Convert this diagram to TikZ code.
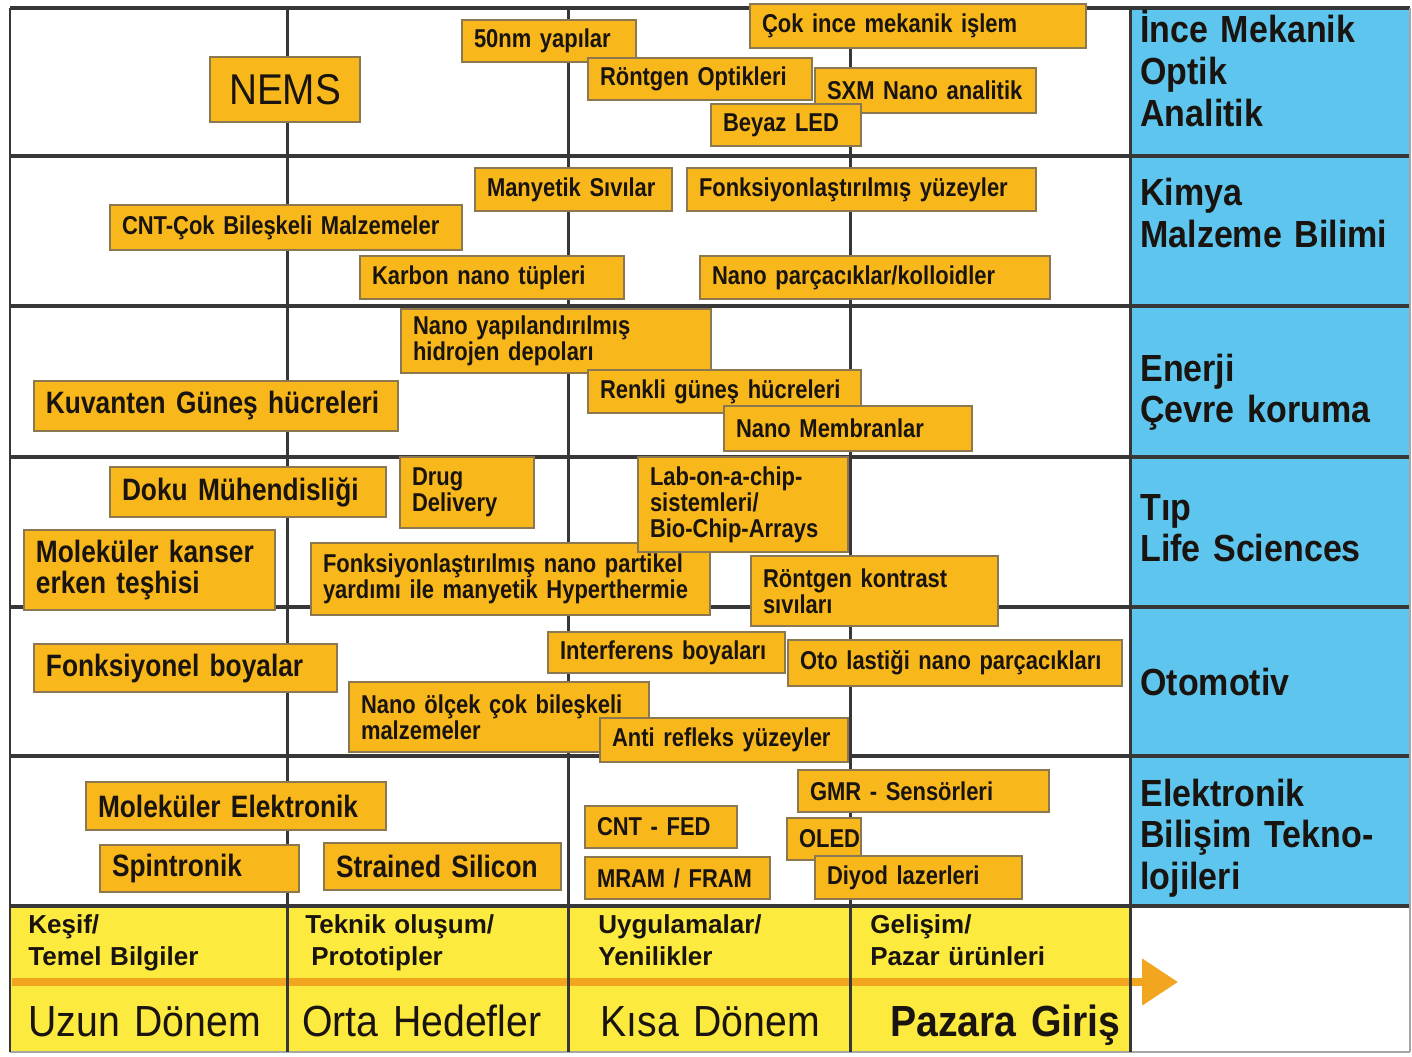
\documentclass[tikz,border=0pt]{standalone}
\usepackage{fontspec}
\setmainfont{Liberation Sans}
\newfontfamily\cnd[FakeStretch=0.85]{Liberation Sans}
\newfontfamily\cndw[FakeStretch=0.9]{Liberation Sans}
\usetikzlibrary{arrows.meta}
\definecolor{boxfill}{RGB}{248,184,28}
\definecolor{boxedge}{RGB}{140,120,80}
\definecolor{bluecol}{RGB}{94,198,238}
\definecolor{yelrow}{RGB}{253,234,62}
\definecolor{arrowc}{RGB}{242,165,30}
\definecolor{gridc}{RGB}{55,55,55}
\definecolor{txt}{RGB}{25,20,15}
\tikzset{
  box/.style={draw=boxedge, fill=boxfill, line width=0.05cm, text=txt, align=left,
    inner xsep=0.24cm, inner ysep=0pt, font=\cnd\bfseries\fontsize{14.7}{14.9}\selectfont},
  boxL/.style={font=\cnd\bfseries\fontsize{17.6}{18.1}\selectfont},
  hline/.style={draw=gridc, line width=0.09cm},
  vline/.style={draw=gridc, line width=0.06cm},
  sidelabel/.style={anchor=base west, inner sep=0pt, align=left, text width=5.3cm, text=txt,
    font=\cndw\bfseries\fontsize{21.5}{23.8}\selectfont},
  phase/.style={anchor=base west, inner sep=0pt, align=left, text width=5cm, text=txt,
    font=\bfseries\fontsize{14.8}{18.7}\selectfont},
  horizon/.style={anchor=base west, inner sep=0pt, align=left, text width=5cm, text=txt,
    font=\cndw\fontsize{24.8}{26}\selectfont},
  trend/.style={draw=arrowc, line width=0.16cm, -{Triangle[length=0.72cm,width=0.9cm]}}
}
\newcommand\bx[7][]{%
  \pgfmathsetmacro\bxw{(#5-#3-24)*0.02}%
  \pgfmathsetmacro\bxh{(#6-#4)*0.02}%
  \node[box,#1,text width=\bxw cm,minimum height=\bxh cm] (#2) at ({(#3+#5)/2},{(#4+#6)/2}) {#7};}
\begin{document}
\begin{tikzpicture}[x=0.02cm,y=-0.02cm]
\useasboundingbox (0,0) rectangle (1412,1057);
\fill[white] (0,0) rectangle (1412,1057);
\fill[bluecol] (1130,8) rectangle (1410,906);
\fill[yelrow] (10,906) rectangle (1130,1052);
% trend arrow
\coordinate (arrS) at (12,982);
\coordinate (arrE) at (1178,982);
\draw[trend] (arrS) -- (arrE);
% grid
\foreach \y in {8,156,306,457,607,756,906} \draw[hline] (10,\y) -- (1410,\y);
\draw[draw=gray!70, line width=0.05cm] (10,1052) -- (1410,1052);
\draw[draw=gray!70, line width=0.04cm] (1410,8) -- (1410,1052);
\foreach \x in {10,287,568,850,1130} \draw[vline] (\x,8) -- (\x,1052);
% row 1
\bx[font=\cndw\fontsize{24.5}{26}\selectfont, align=center]{nems}{210}{57}{360}{122}{NEMS}
\bx{nm50}{462}{20}{636}{62}{50nm yapılar}
\bx{cok}{750}{4}{1086}{48}{Çok ince mekanik işlem}
\bx{ront}{588}{58}{812}{100}{Röntgen Optikleri}
\bx{sxm}{815}{68}{1036}{113}{SXM Nano analitik}
\bx{led}{711}{104}{861}{146}{Beyaz LED}
% row 2
\bx{manyetik}{475}{168}{672}{211}{Manyetik Sıvılar}
\bx{fonkyuz}{687}{168}{1036}{211}{Fonksiyonlaştırılmış yüzeyler}
\bx{cnt}{110}{205}{462}{250}{CNT-Çok Bileşkeli Malzemeler}
\bx{karbon}{360}{256}{624}{299}{Karbon nano tüpleri}
\bx{nanopar}{700}{256}{1050}{299}{Nano parçacıklar/kolloidler}
% row 3
\bx{hidro}{401}{309}{711}{373}{Nano yapılandırılmış\\hidrojen depoları}
\bx[boxL]{kuv}{34}{381}{398}{431}{Kuvanten Güneş hücreleri}
\bx{renkli}{588}{370}{861}{413}{Renkli güneş hücreleri}
\bx{memb}{724}{406}{972}{451}{Nano Membranlar}
% row 4
\bx[boxL]{doku}{110}{467}{386}{517}{Doku Mühendisliği}
\bx{drug}{400}{457}{534}{528}{Drug\\Delivery}
\bx[boxL]{kanser}{24}{530}{275}{610}{Moleküler kanser\\erken teşhisi}
\bx{hyper}{311}{543}{710}{615}{Fonksiyonlaştırılmış nano partikel\\yardımı ile manyetik Hyperthermie}
\bx{lab}{638}{457}{848}{552}{Lab-on-a-chip-\\sistemleri/\\Bio-Chip-Arrays}
\bx{kontrast}{751}{556}{998}{626}{Röntgen kontrast\\sıvıları}
% row 5
\bx[boxL]{boya}{34}{644}{337}{692}{Fonksiyonel boyalar}
\bx{inter}{548}{632}{785}{673}{Interferens boyaları}
\bx{oto}{788}{640}{1122}{686}{Oto lastiği nano parçacıkları}
\bx{olcek}{349}{682}{649}{752}{Nano ölçek çok bileşkeli\\malzemeler}
\bx{anti}{600}{718}{848}{762}{Anti refleks yüzeyler}
% row 6
\bx[boxL]{molel}{86}{782}{386}{830}{Moleküler Elektronik}
\bx{gmr}{798}{770}{1049}{812}{GMR - Sensörleri}
\bx{cntfed}{585}{806}{737}{848}{CNT - FED}
\bx{oled}{787}{818}{861}{860}{OLED}
\bx[boxL]{spin}{100}{845}{299}{892}{Spintronik}
\bx[boxL]{strained}{324}{843}{561}{890}{Strained Silicon}
\bx{mram}{585}{857}{770}{899}{MRAM / FRAM}
\bx{diyod}{815}{856}{1022}{899}{Diyod lazerleri}
% side labels
\node[sidelabel] (s1) at (1140,43) {İnce Mekanik\\Optik\\Analitik};
\node[sidelabel] (s2) at (1140,206) {Kimya\\Malzeme Bilimi};
\node[sidelabel] (s3) at (1140,381) {Enerji\\Çevre koruma};
\node[sidelabel] (s4) at (1140,520) {Tıp\\Life Sciences};
\node[sidelabel] (s5) at (1140,695) {Otomotiv};
\node[sidelabel] (s6) at (1140,806) {Elektronik\\Bilişim Tekno-\\lojileri};
% bottom phases
\node[phase] (p1) at (28,933) {Keşif/\\Temel Bilgiler};
\node[phase] (p2) at (305,933) {Teknik oluşum/\\\hspace*{0.12cm}Prototipler};
\node[phase] (p3) at (598,933) {Uygulamalar/\\Yenilikler};
\node[phase] (p4) at (870,933) {Gelişim/\\Pazar ürünleri};
\node[horizon] (h1) at (28,1036) {Uzun Dönem};
\node[horizon] (h2) at (302,1036) {Orta Hedefler};
\node[horizon] (h3) at (600,1036) {Kısa Dönem};
\node[horizon, font=\cndw\bfseries\fontsize{24.8}{26}\selectfont] (h4) at (890,1036) {Pazara Giriş};
\end{tikzpicture}
\end{document}
